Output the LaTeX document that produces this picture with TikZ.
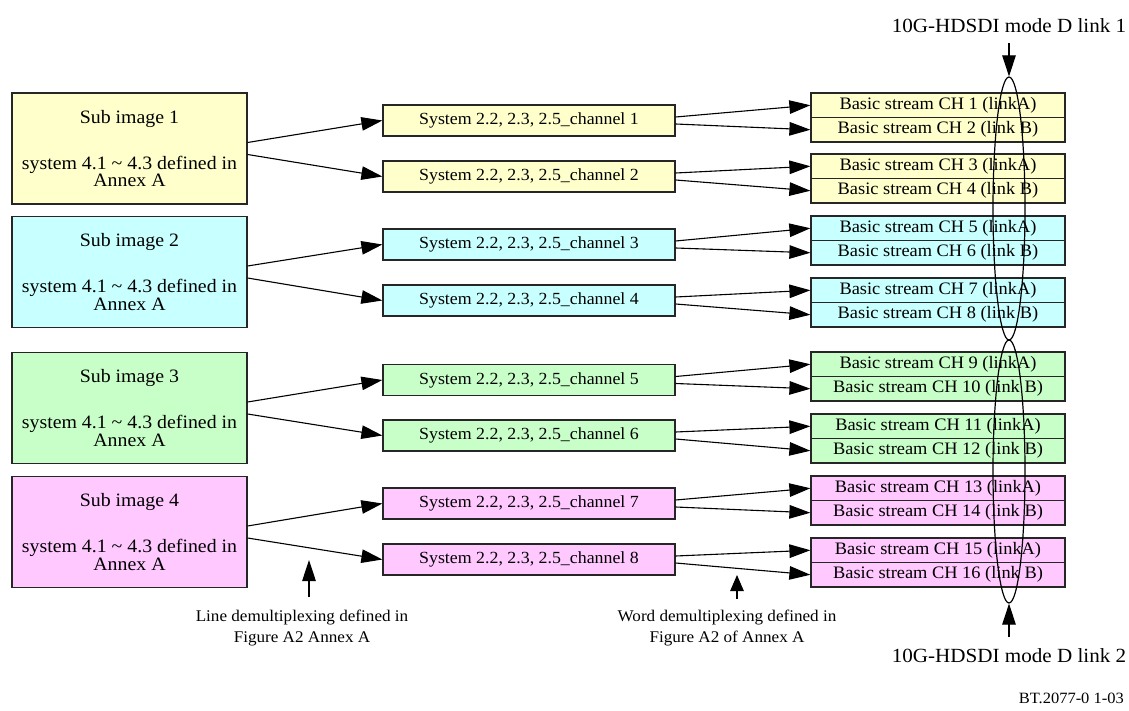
\documentclass[tikz,border=0pt]{standalone}
\usepackage{fontspec}
\setmainfont{Liberation Serif}[FakeStretch=1.05]
\usetikzlibrary{arrows.meta,shapes.geometric,calc}
\definecolor{cYel}{HTML}{FFFFCC}
\definecolor{cCya}{HTML}{C8FFFF}
\definecolor{cGre}{HTML}{C8FFC8}
\definecolor{cPin}{HTML}{FFC8FF}
\begin{document}
\begin{tikzpicture}[x=1pt,y=-1pt,
  box/.style={draw=black!85, line width=1.2pt, inner sep=0pt, anchor=center},
  leftbox/.style={box, minimum width=235pt, minimum height=111pt, align=center, font=\fontsize{18.9}{17.3}\selectfont},
  midbox/.style={box, minimum width=292pt, minimum height=31pt, font=\fontsize{17.0}{17.0}\selectfont},
  rbox/.style={box, minimum width=254pt, minimum height=24.5pt, font=\fontsize{17.5}{17.5}\selectfont},
  arr/.style={line width=1.1pt, -{Triangle[length=21pt,width=13.5pt]}},
  lab/.style={inner sep=0pt, align=center},
  linkell/.style={draw, ellipse, line width=1.2pt, minimum width=32pt, minimum height=263pt, inner sep=0pt}
]
\path[use as bounding box, fill=white] (0,0) rectangle (1129,711);

% left boxes
\node[leftbox, fill=cYel] (L1) at (129.5,148.5) {Sub image 1\\[27.7pt]system 4.1 \textasciitilde{} 4.3 defined in\\Annex A};
\node[leftbox, fill=cCya] (L2) at (129.5,272) {Sub image 2\\[27.7pt]system 4.1 \textasciitilde{} 4.3 defined in\\Annex A};
\node[leftbox, fill=cGre] (L3) at (129.5,408) {Sub image 3\\[27.7pt]system 4.1 \textasciitilde{} 4.3 defined in\\Annex A};
\node[leftbox, fill=cPin] (L4) at (129.5,532) {Sub image 4\\[27.7pt]system 4.1 \textasciitilde{} 4.3 defined in\\Annex A};

% middle boxes
\foreach \i/\y/\c in {1/120.5/cYel,2/176.5/cYel,3/244.5/cCya,4/300.5/cCya,5/380/cGre,6/435.5/cGre,7/503.5/cPin,8/559.5/cPin}{
  \node[midbox, fill=\c] (M\i) at (529,\y) {System 2.2, 2.3, 2.5\_channel \i};
}

% right boxes
\foreach \j/\t/\c in {1/93/cYel,2/154/cYel,3/216/cCya,4/278/cCya,5/352/cGre,6/414/cGre,7/476/cPin,8/538/cPin}{
  \pgfmathtruncatemacro{\a}{2*\j-1}
  \pgfmathtruncatemacro{\b}{2*\j}
  \node[rbox, fill=\c] (R\a) at (938,\t+12.25) {Basic stream CH \a\ (linkA)};
  \node[rbox, fill=\c] (R\b) at (938,\t+36.75) {Basic stream CH \b\ (link B)};
}

% edges left -> middle
\foreach \i in {1,...,4}{
  \pgfmathtruncatemacro{\a}{2*\i-1}
  \pgfmathtruncatemacro{\b}{2*\i}
  \draw[arr] ([yshift=6pt]L\i.east) -- (M\a.west);
  \draw[arr] ([yshift=-6pt]L\i.east) -- (M\b.west);
}
% edges middle -> right
\foreach \j in {1,...,8}{
  \pgfmathtruncatemacro{\a}{2*\j-1}
  \pgfmathtruncatemacro{\b}{2*\j}
  \draw[arr] ([yshift=3.5pt]M\j.east) -- (R\a.west);
  \draw[arr] ([yshift=-3.5pt]M\j.east) -- (R\b.west);
}

% link ellipses
\node[linkell] (E1) at (1009,208.5) {};
\node[linkell] (E2) at (1009,471.5) {};

\node[lab, anchor=base, font=\fontsize{20.1}{20}\selectfont] (T1) at (1009,32.5) {10G-HDSDI mode D link 1};
\node[lab, anchor=base, font=\fontsize{20.1}{20}\selectfont] (T2) at (1009,662) {10G-HDSDI mode D link 2};
\draw[arr, shorten <=10.5pt] (T1.south) -- (E1.north);
\draw[arr, shorten <=11pt] (T2.north) -- (E2.south);

% demultiplexing notes
\coordinate (LDtip) at (309,560);
\coordinate (WDtip) at (737,575);
\node[lab, font=\fontsize{16.3}{21}\selectfont] (LD) at (302,628) {Line demultiplexing defined in\\Figure A2 Annex A};
\node[lab, font=\fontsize{16.3}{21}\selectfont] (WD) at (727,628) {Word demultiplexing defined in\\Figure A2 of Annex A};
\draw[arr] ([yshift=13pt]LD.north -| LDtip) -- (LDtip);
\draw[arr, -{Triangle[length=16pt,width=13.5pt]}] ([yshift=11pt]WD.north -| WDtip) -- (WDtip);

\node[lab, anchor=base east, font=\fontsize{15.7}{16}\selectfont] (BT) at (1124,703) {BT.2077-0 1-03};
\end{tikzpicture}
\end{document}
